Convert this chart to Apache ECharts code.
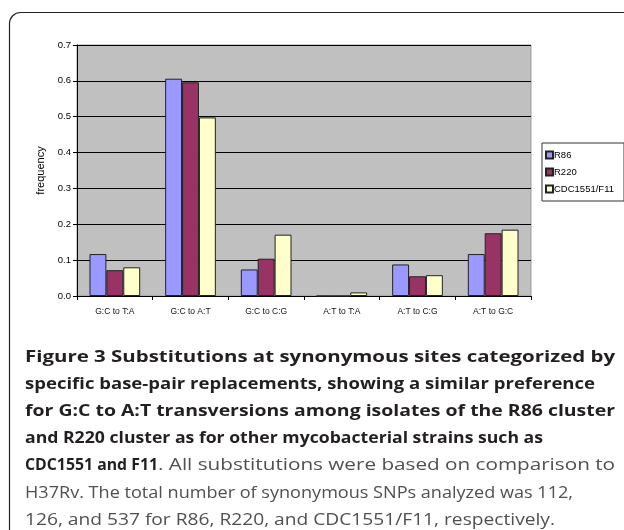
<!DOCTYPE html>
<html>
<head>
<meta charset="utf-8">
<script src="https://cdn.jsdelivr.net/npm/echarts@6/dist/echarts.min.js"></script>
<style>
  html, body { margin: 0; padding: 0; background: #fff; }
  #mychart { width: 624px; height: 530px; }
</style>
</head>
<body>
<div id="mychart"></div>
<script>
// categories and values
const categories = ['G:C to T:A', 'G:C to A:T', 'G:C to C:G', 'A:T to T:A', 'A:T to C:G', 'A:T to G:C']
const r86 = [0.117, 0.606, 0.074, 0, 0.088, 0.117]
const r220 = [0.072, 0.596, 0.104, 0, 0.055, 0.175]
const cdc = [0.080, 0.498, 0.171, 0.010, 0.058, 0.185]
const seriesNames = ['R86', 'R220', 'CDC1551/F11']
const seriesColors = ['#9999ff', '#993366', '#ffffcc']

// caption lines: bold run, normal run
const captionLines = [
  ['Figure 3 Substitutions at synonymous sites categorized by', ''],
  ['specific base-pair replacements, showing a similar preference', ''],
  ['for G:C to A:T transversions among isolates of the R86 cluster', ''],
  ['and R220 cluster as for other mycobacterial strains such as', ''],
  ['CDC1551 and F11', '. All substitutions were based on comparison to'],
  ['', 'H37Rv. The total number of synonymous SNPs analyzed was 112,'],
  ['', '126, and 537 for R86, R220, and CDC1551/F11, respectively.']
]
// where each run ends in the figure (x px), used to fit the substitute font
const captionRunEnds = [[615, 0], [595, 0], [615, 0], [543, 0], [158, 615], [0, 573], [0, 555]]

const capFont = '"Open Sans"'
const capSize = 16

const measureCtx = document.createElement('canvas').getContext('2d')
function textWidth (s, weight) {
  measureCtx.font = weight + ' ' + capSize + 'px ' + capFont
  return measureCtx.measureText(s).width
}

function buildCaption () {
  let items = []
  captionLines.forEach((ln, i) => {
    let y = 349 + i * 27.2
    let x = 25
    ;[['bold', '#231f20'], ['normal', '#505050']].forEach((w, k) => {
      if (!ln[k]) return
      let end = captionRunEnds[i][k]
      let s = (end - x) / textWidth(ln[k], w[0])
      items.push({
        type: 'text',
        x: x,
        y: y,
        scaleX: s,
        silent: true,
        style: { text: ln[k], fontFamily: capFont, fontWeight: w[0], fontSize: capSize, fill: w[1] }
      })
      x = end
    })
  })
  return items
}

let myChart = echarts.init(document.getElementById('mychart'), null, { renderer: 'canvas' })

myChart.setOption({
  animation: false,
  backgroundColor: '#fff',
  textStyle: { fontFamily: 'Arial, "Liberation Sans", sans-serif' },
  grid: {
    left: 77,
    top: 45,
    width: 454,
    height: 251,
    show: true,
    backgroundColor: '#c0c0c0',
    borderColor: '#999',
    borderWidth: 1
  },
  legend: {
    orient: 'vertical',
    left: 542,
    top: 143,
    width: 78,
    padding: [7, 10, 7, 3],
    itemGap: 7,
    itemWidth: 7,
    itemHeight: 7,
    icon: 'rect',
    backgroundColor: '#fff',
    borderColor: '#333',
    borderWidth: 1,
    textStyle: { fontSize: 9.5, color: '#000', padding: [0, 0, 0, -4] },
    data: seriesNames
  },
  xAxis: {
    type: 'category',
    data: categories,
    axisLine: { lineStyle: { color: '#000', width: 1 } },
    axisTick: { show: true, length: 4, lineStyle: { color: '#000' } },
    axisLabel: { color: '#111', fontSize: 8.5, margin: 11 }
  },
  yAxis: {
    type: 'value',
    min: 0,
    max: 0.7,
    interval: 0.1,
    name: 'frequency',
    nameLocation: 'middle',
    nameGap: 29,
    nameRotate: 90,
    nameTextStyle: { fontSize: 11, color: '#000' },
    axisLine: { show: true, lineStyle: { color: '#000' } },
    axisTick: { show: true, length: 4, lineStyle: { color: '#000' } },
    axisLabel: { color: '#000', fontSize: 9.5, margin: 6, formatter: v => v.toFixed(1) },
    splitLine: { lineStyle: { color: '#000', width: 1 } }
  },
  series: [r86, r220, cdc].map((d, i) => ({
    name: seriesNames[i],
    type: 'bar',
    data: d,
    barGap: '0%',
    barCategoryGap: '33%',
    itemStyle: { color: seriesColors[i], borderColor: '#222', borderWidth: 1 }
  })),
  graphic: [
    {
      type: 'rect',
      shape: { x: 9.5, y: 12.5, width: 700, height: 600, r: [11, 0, 0, 0] },
      style: { fill: 'none', stroke: '#222', lineWidth: 1.2 },
      silent: true
    }
  ].concat(buildCaption())
})
</script>
</body>
</html>
